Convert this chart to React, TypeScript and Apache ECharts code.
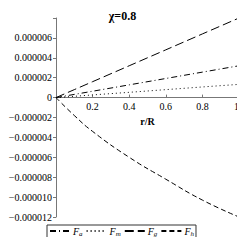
import React, { useEffect, useRef } from "react";
import * as echarts from "echarts";

const xs = [0, 0.1, 0.2, 0.4, 0.6, 0.8, 1];
const Fa = [0, 0.32e-6, 0.64e-6, 1.28e-6, 1.92e-6, 2.56e-6, 3.2e-6];
const Fm = [0, 0.13e-6, 0.27e-6, 0.53e-6, 0.8e-6, 1.07e-6, 1.33e-6];
const Fg = [0, 0.8e-6, 1.6e-6, 3.2e-6, 4.8e-6, 6.4e-6, 8.0e-6];
const Fh = [0, -1.8e-6, -3.4e-6, -6.0e-6, -8.2e-6, -10.3e-6, -12.0e-6];
const seriesNames = ["a", "m", "g", "h"];
const yTicks = { min: -12e-6, max: 8e-6, interval: 2e-6 };
const xTicks = { min: 0, max: 1, interval: 0.2 };

const serif = "Liberation Serif";
const W = 245, H = 245;
const grid = { left: 56, right: 6, top: 18, bottom: 28 };

export default function App() {
  const ref = useRef<HTMLDivElement>(null);
  useEffect(() => {
    const chart = echarts.init(ref.current!, null, { renderer: "svg" });
    const gridH = H - grid.top - grid.bottom;
    const zeroOffset = -gridH * (0 - yTicks.min) / (yTicks.max - yTicks.min);
    const mk = (name: string, vals: number[], type: any, smooth = false) => ({
      name,
      type: "line",
      data: xs.map((x, i) => [x, vals[i]]),
      symbol: "none",
      smooth,
      lineStyle: { color: "#000", width: 1, type },
      itemStyle: { color: "#000" },
    });
    chart.setOption({
      animation: false,
      textStyle: { fontFamily: serif },
      title: {
        text: "χ=0.8",
        left: "center",
        top: 5,
        textStyle: { fontFamily: serif, fontSize: 12, fontWeight: "bold", color: "#000" },
      },
      grid,
      xAxis: {
        type: "value",
        min: xTicks.min,
        max: xTicks.max,
        interval: xTicks.interval,
        offset: zeroOffset,
        name: "r/R",
        nameLocation: "middle",
        nameGap: 15,
        nameTextStyle: { fontFamily: serif, fontSize: 10, fontWeight: "bold", color: "#000" },
        axisLine: { onZero: false, lineStyle: { color: "#777", width: 1 } },
        axisTick: { inside: true, length: 3, lineStyle: { color: "#777" } },
        axisLabel: {
          fontFamily: serif,
          fontSize: 10,
          color: "#000",
          margin: 4,
          hideOverlap: false,
          showMinLabel: true,
          showMaxLabel: true,
          alignMaxLabel: "right",
          formatter: (v: number) => (v < 0.01 ? "" : String(Math.round(v * 10) / 10)),
        },
        splitLine: { show: false },
      },
      yAxis: {
        type: "value",
        min: yTicks.min,
        max: yTicks.max,
        interval: yTicks.interval,
        axisLine: { show: true, onZero: false, lineStyle: { color: "#777", width: 1 } },
        axisTick: { show: true, length: 3, lineStyle: { color: "#777" } },
        axisLabel: {
          fontFamily: serif,
          fontSize: 10,
          color: "#000",
          margin: 4,
          formatter: (v: number) => {
            if (v > 7e-6) return "";
            if (Math.abs(v) < 1e-12) return "0";
            return v.toFixed(6).replace("-", "−");
          },
        },
        splitLine: { show: false },
      },
      legend: {
        left: 47,
        top: 225,
        padding: [1, 2, 1, 2],
        itemWidth: 20,
        itemHeight: 10,
        itemGap: 3,
        borderColor: "#333",
        borderWidth: 1,
        itemStyle: { opacity: 0 },
        data: seriesNames.map((s) => "F" + s),
        formatter: (n: string) => "{f|F}{s|" + n.slice(1) + "}",
        textStyle: {
          fontFamily: serif,
          fontSize: 10,
          color: "#000",
          padding: [0, 0, 0, -2],
          rich: {
            f: { fontFamily: serif, fontSize: 10, fontStyle: "italic", color: "#000" },
            s: { fontFamily: serif, fontSize: 7, fontStyle: "italic", color: "#000", padding: [5, 0, 0, 0] },
          },
        },
      },
      series: [
        mk("Fa", Fa, [6, 3, 1, 3]),
        mk("Fm", Fm, [1, 3]),
        mk("Fg", Fg, [9, 4]),
        mk("Fh", Fh, [5, 3], true),
      ],
    });
    return () => chart.dispose();
  }, []);
  return <div ref={ref} style={{ width: W, height: H, margin: -8 }} />;
}
